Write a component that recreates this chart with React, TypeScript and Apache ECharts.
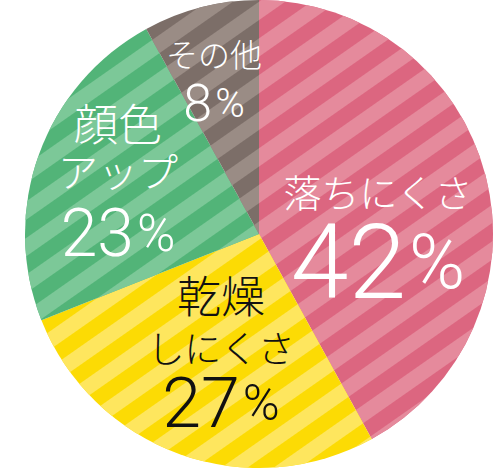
import React, { useEffect, useRef } from 'react';
import * as echarts from 'echarts';

const CATEGORIES = ['落ちにくさ', '乾燥\nしにくさ', '顔色\nアップ', 'その他'];
const VALUES = [42, 27, 23, 8];
const BASE_COLORS = ['#DC6680', '#FCDB04', '#52B478', '#7C6E68'];
const STRIPE_COLORS = ['#E58A9C', '#FEE65E', '#7CC898', '#9A8C85'];
const TEXT_COLORS = ['#ffffff', '#111111', '#ffffff', '#ffffff'];

const NAME_SIZES = [[38], [44, 37], [44, 40], [32]];
const NAME_LINE_HEIGHTS = [[40], [48, 58], [44, 52], [38]];
const VALUE_SIZES = [104, 70, 66, 52];
const VALUE_LINE_HEIGHTS = [104, 54, 74, 62];
const PCT_SIZES = [76, 50, 52, 40];
const LABEL_ANCHORS = [[378, 170], [221, 270], [118, 100], [214, 34]];

const CJK = "'Noto Sans CJK JP', 'Noto Sans', sans-serif";
const NUM = "Roboto, 'Open Sans', 'Noto Sans', sans-serif";

export default function App() {
  const ref = useRef<HTMLDivElement>(null);
  useEffect(() => {
    if (!ref.current) return;
    const chart = echarts.init(ref.current, null, { renderer: 'svg' });
    const data = CATEGORIES.map((name, i) => {
      const rich: Record<string, any> = {};
      NAME_SIZES[i].forEach((fs, j) => {
        rich['n' + j] = {
          fontSize: fs,
          lineHeight: NAME_LINE_HEIGHTS[i][j],
          fontFamily: CJK,
          fontWeight: 300,
          color: TEXT_COLORS[i],
        };
      });
      rich.v = {
        fontSize: VALUE_SIZES[i],
        lineHeight: VALUE_LINE_HEIGHTS[i],
        fontFamily: NUM,
        fontWeight: 300,
        color: TEXT_COLORS[i],
      };
      rich.p = {
        fontSize: PCT_SIZES[i],
        lineHeight: VALUE_LINE_HEIGHTS[i],
        fontFamily: NUM,
        fontWeight: 300,
        color: TEXT_COLORS[i],
        padding: [0, 0, 0, 3],
      };
      return {
        name,
        value: VALUES[i],
        itemStyle: {
          color: BASE_COLORS[i],
          borderWidth: 0,
          decal: {
            symbol: 'rect',
            symbolSize: 1,
            dashArrayX: [1, 0],
            dashArrayY: [15, 15],
            rotation: -35 * Math.PI / 180,
            color: STRIPE_COLORS[i],
          },
        },
        label: { color: TEXT_COLORS[i], rich },
      };
    });
    chart.setOption({
      animation: false,
      series: [
        {
          type: 'pie',
          center: [259, 234],
          radius: 234,
          startAngle: 90,
          clockwise: true,
          silent: true,
          emphasis: { disabled: true },
          labelLine: { show: false },
          label: {
            show: true,
            position: 'inside',
            formatter: (p: any) =>
              String(p.name)
                .split('\n')
                .map((l: string, j: number) => `{n${j}|${l}}`)
                .join('\n') + `\n{v|${p.value}}{p|%}`,
          },
          labelLayout: (params: any) => {
            const [x, y] = LABEL_ANCHORS[params.dataIndex];
            return { x, y, align: 'center', verticalAlign: 'top' };
          },
          data,
        },
      ],
    });
    return () => chart.dispose();
  }, []);
  return (
    <div
      ref={ref}
      style={{ position: 'fixed', left: 0, top: 0, width: 500, height: 470, background: '#fff' }}
    />
  );
}
